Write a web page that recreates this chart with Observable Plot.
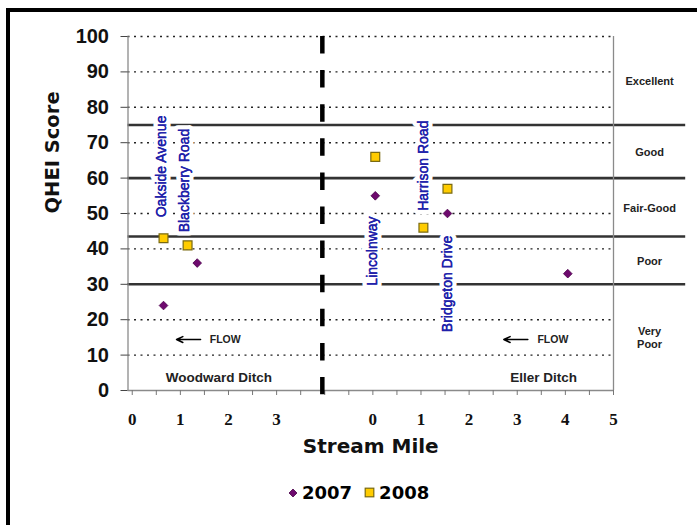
<!DOCTYPE html>
<html><head><meta charset="utf-8">
<script src="https://cdn.jsdelivr.net/npm/d3@7"></script>
<script src="https://cdn.jsdelivr.net/npm/@observablehq/plot@0.6"></script>
<style>
html,body{margin:0;padding:0;background:#fff;overflow:hidden;width:697px;height:525px}
#frame{position:absolute;left:6px;top:8px;width:900px;height:900px;border-left:4px solid #000;border-top:4px solid #000;box-sizing:border-box;pointer-events:none}
#chart{position:absolute;left:0;top:0}
#legend{position:absolute;top:482px;left:288px;display:flex;align-items:center;font:bold 18px "DejaVu Sans",sans-serif;color:#000}
#legend svg{margin-right:4px}
</style></head><body>
<div id="chart"></div>
<div id="legend"></div>
<div id="frame"></div>
<script>
// ---- data ----
const years = ["2007", "2008"];
const woodward2007Mile = [0.65, 1.35];
const woodward2007Score = [24, 36];
const woodward2008Mile = [0.65, 1.15];
const woodward2008Score = [43, 41];
const eller2007Mile = [0.05, 1.55, 4.05];
const eller2007Score = [55, 50, 33];
const eller2008Mile = [0.05, 1.05, 1.55];
const eller2008Score = [66, 46, 57];

const roadNames = ["Oakside Avenue", "Blackberry Road", "Lincolnway", "Harrison Road", "Bridgeton Drive"];
const roadStream = ["Woodward Ditch", "Woodward Ditch", "Eller Ditch", "Eller Ditch", "Eller Ditch"];
const roadMile = [0.6, 1.08, 0.0, 1.06, 1.56];
const roadLabelScore = [63.3, 59.3, 39.4, 63.5, 30.1];

const ratingNames = ["Excellent", "Good", "Fair-Good", "Poor", "Very\nPoor"];
const ratingBounds = [100, 75, 60, 43.5, 30, 0];

const streamNames = ["Woodward Ditch", "Eller Ditch"];
const leftMileTicks = [0, 1, 2, 3];
const rightMileTicks = [0, 1, 2, 3, 4, 5];
const yTicks = [0, 10, 20, 30, 40, 50, 60, 70, 80, 90, 100];

// ---- layout helpers (combined axis: Eller Ditch shifted right) ----
const ELLER_SHIFT = 5;
const DIVIDER = 3.95;
const X0 = -0.088, X1 = 10, LINE_END = 11.5;
const xOf = (stream, mile) => stream === "Eller Ditch" ? mile + ELLER_SHIFT : mile;

const pts = [];
woodward2007Mile.forEach((m, i) => pts.push({stream: "Woodward Ditch", year: "2007", x: xOf("Woodward Ditch", m), score: woodward2007Score[i]}));
woodward2008Mile.forEach((m, i) => pts.push({stream: "Woodward Ditch", year: "2008", x: xOf("Woodward Ditch", m), score: woodward2008Score[i]}));
eller2007Mile.forEach((m, i) => pts.push({stream: "Eller Ditch", year: "2007", x: xOf("Eller Ditch", m), score: eller2007Score[i]}));
eller2008Mile.forEach((m, i) => pts.push({stream: "Eller Ditch", year: "2008", x: xOf("Eller Ditch", m), score: eller2008Score[i]}));

const roads = roadNames.map((n, i) => ({name: n, x: xOf(roadStream[i], roadMile[i]), y: roadLabelScore[i]}));
const ratings = ratingNames.map((n, i) => ({name: n, y: (ratingBounds[i] + ratingBounds[i + 1]) / 2}));
const thresholds = ratingBounds.slice(1, -1);
const xLabels = [
  ...leftMileTicks.map(t => ({x: xOf("Woodward Ditch", t), label: String(t)})),
  ...rightMileTicks.map(t => ({x: xOf("Eller Ditch", t), label: String(t)}))
];
const flows = [
  {stream: "Woodward Ditch", from: 1.42, to: 0.92, text: 1.61, y: 14.4},
  {stream: "Eller Ditch", from: 3.22, to: 2.72, text: 3.42, y: 14.4}
].map(d => ({...d, x1: xOf(d.stream, d.from), x2: xOf(d.stream, d.to), xt: xOf(d.stream, d.text)}));
const ditchLabels = [
  {name: "Woodward Ditch", x: xOf("Woodward Ditch", 1.8), y: 3.7},
  {name: "Eller Ditch", x: xOf("Eller Ditch", 3.55), y: 3.7}
];

const purple = "#6e0a6e", yellow = "#ffcc00", blue = "#2020aa";
const sans = "Liberation Sans, Arial, sans-serif";

const chart = Plot.plot({
  width: 697, height: 470,
  marginLeft: 127.5, marginRight: 84, marginTop: 36, marginBottom: 80,
  style: {background: "transparent", fontFamily: sans},
  x: {domain: [X0, X1]},
  y: {domain: [0, 100]},
  marks: [
    Plot.ruleY(yTicks.filter(t => t > 0), {x1: X0, x2: X1, stroke: "#222", strokeWidth: 1.4, strokeDasharray: "2,4.5"}),
    Plot.ruleY(thresholds, {x1: X0, x2: LINE_END, stroke: "#333", strokeWidth: 2.6}),
    Plot.ruleX([X0, X1], {y1: 0, y2: 100, stroke: "#8a8a8a", strokeWidth: 1.3}),
    Plot.ruleY([0], {x1: X0, x2: X1, stroke: "#8a8a8a", strokeWidth: 1.3}),
    Plot.axisX({ticks: d3.range(0, 10.001, 0.5), tickFormat: () => "", tickSize: 5, stroke: "#777", label: null}),
    Plot.axisY({ticks: yTicks, tickSize: 7, tickPadding: 12, fontSize: 20, fontWeight: "bold", fontFamily: sans, fill: "#111", stroke: "#444", label: null}),
    Plot.ruleX([DIVIDER], {y1: 100, y2: -1.2, stroke: "#000", strokeWidth: 4.5, strokeDasharray: "17.5,16.6"}),
    Plot.text(roads, {x: "x", y: "y", text: "name", rotate: -90, fill: blue, stroke: "white", strokeWidth: 9, fontSize: 14, fontFamily: sans}),
    Plot.text(roads, {x: "x", y: "y", text: "name", rotate: -90, fill: blue, stroke: blue, strokeWidth: 0.35, fontSize: 14, fontFamily: sans}),
    Plot.text(ratings, {x: (X1 + LINE_END) / 2, y: "y", text: "name", fontSize: 11, fontWeight: "bold", fill: "#222", fontFamily: sans, lineHeight: 1.2}),
    Plot.arrow(flows, {x1: "x1", y1: "y", x2: "x2", y2: "y", stroke: "#000", strokeWidth: 1.5, headLength: 7, headAngle: 50}),
    Plot.text(flows, {x: "xt", y: "y", text: () => "FLOW", textAnchor: "start", fontSize: 10.5, fontWeight: "bold", fill: "#222", fontFamily: sans}),
    Plot.text(ditchLabels, {x: "x", y: "y", text: "name", fontSize: 13.5, fontWeight: "bold", fill: "#222", fontFamily: sans}),
    Plot.dot(pts.filter(d => d.year === "2007"), {x: "x", y: "score", symbol: "diamond2", r: 3.9, fill: purple, stroke: "#4a004a", strokeWidth: 0.8}),
    Plot.dot(pts.filter(d => d.year === "2008"), {x: "x", y: "score", symbol: "square", r: 5, fill: yellow, stroke: "#7a6a10", strokeWidth: 1.2}),
    Plot.text(xLabels, {x: "x", y: 0, dy: 29, text: "label", fontSize: 17, fontWeight: "bold", fontFamily: "Liberation Serif, Times New Roman, serif", fill: "#111"}),
    Plot.text(["Stream Mile"], {frameAnchor: "bottom", dy: 62, fontSize: 20, fontWeight: "bold", fontFamily: "DejaVu Sans, Verdana, sans-serif", fill: "#111"}),
    Plot.text(["QHEI Score"], {frameAnchor: "left", dx: -75.5, rotate: -90, fontSize: 19.5, fontWeight: "bold", fontFamily: "DejaVu Sans, Verdana, sans-serif", fill: "#111"})
  ]
});
document.getElementById("chart").appendChild(chart);

// legend
const legend = document.getElementById("legend");
const sym = {
  "2007": `<svg width="10" height="10" viewBox="-5 -5 10 10"><path d="M0,-4L4,0L0,4L-4,0Z" fill="${purple}" stroke="#4a004a" stroke-width="0.8"/></svg>`,
  "2008": `<svg width="11" height="11" viewBox="-5.5 -5.5 11 11"><rect x="-4.3" y="-4.3" width="8.6" height="8.6" fill="${yellow}" stroke="#7a6a10" stroke-width="1.2"/></svg>`
};
years.forEach((y, i) => {
  const item = document.createElement("span");
  item.style.display = "inline-flex";
  item.style.alignItems = "center";
  item.style.marginRight = i === 0 ? "12px" : "0";
  item.innerHTML = sym[y] + `<span>${y}</span>`;
  legend.appendChild(item);
});
</script>
</body></html>
